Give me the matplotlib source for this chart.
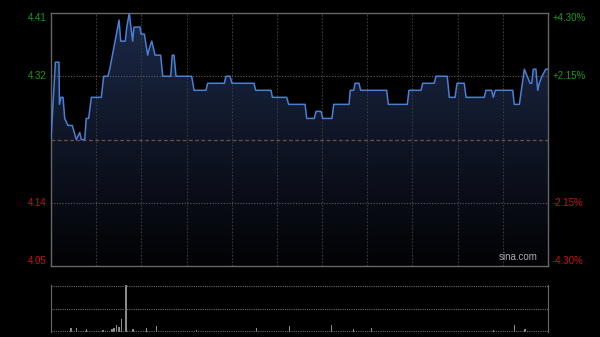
import numpy as np
import matplotlib.pyplot as plt
from matplotlib.patches import Polygon

plt.rcParams['font.family'] = ['Liberation Sans', 'DejaVu Sans']

# intraday price (minutes since open, price)
t = [0, 2.9, 5.3, 5.6, 6.6, 8, 9.1, 11.3, 14.1, 16.8, 19.1, 20.1, 22.4, 23.4, 25, 26.8,
     33.4, 35, 37.8, 39, 45.2, 46.3, 49.3, 50.3, 52, 54.2, 55.1, 59.1, 59.8, 62, 64.2,
     65.3, 66.9, 69.1, 72.8, 74.2, 79.5, 80.5, 81.7, 83, 93.4, 95, 102.9, 104, 115.1,
     116.2, 118.9, 120.2, 134.8, 135.9, 146.1, 147, 156.5, 157.8, 168.7, 169.8, 174.8,
     176, 179.3, 180.4, 186.6, 187.7, 197.9, 198.7, 201, 201.9, 204.5, 205.6, 222.9,
     224, 236.6, 237.7, 245.7, 246.8, 254.5, 255.6, 263.1, 264.5, 268.3, 269.6, 274.4,
     275.6, 287.7, 288.8, 292.6, 293.7, 295, 306.6, 307.6, 311, 314.3, 318.1, 319.2,
     320.3, 322, 323.2, 324.2, 326, 328.5, 330]
price = [4.23, 4.34, 4.34, 4.28, 4.29, 4.29, 4.26, 4.25, 4.25, 4.23, 4.24, 4.23, 4.23, 4.26, 4.26, 4.29,
         4.29, 4.32, 4.32, 4.33, 4.40, 4.37, 4.37, 4.39, 4.41, 4.37, 4.39, 4.39, 4.38, 4.38, 4.35,
         4.36, 4.37, 4.35, 4.35, 4.32, 4.32, 4.35, 4.35, 4.32, 4.32, 4.30, 4.30, 4.31, 4.31,
         4.32, 4.32, 4.31, 4.31, 4.30, 4.30, 4.29, 4.29, 4.28, 4.28, 4.26, 4.26,
         4.27, 4.27, 4.26, 4.26, 4.28, 4.28, 4.30, 4.30, 4.31, 4.31, 4.30, 4.30,
         4.28, 4.28, 4.30, 4.30, 4.31, 4.31, 4.32, 4.32, 4.29, 4.29, 4.31, 4.31,
         4.29, 4.29, 4.30, 4.30, 4.29, 4.30, 4.30, 4.28, 4.28, 4.33, 4.31, 4.31,
         4.33, 4.33, 4.30, 4.31, 4.32, 4.33, 4.33]

# volume spikes (minute, relative height)
vol_t = [13.3, 17, 23.7, 34.5, 40.5, 41.8, 43.6, 45.2, 47, 49.8, 54.4, 63.5, 70.2, 96.7,
         136.6, 158.2, 186.4, 200.7, 213, 293.7, 308, 314.7]
vol_h = [4, 4, 3, 2, 3, 4, 6.7, 5, 12.7, 47, 3, 4, 6, 2,
         4, 6, 7, 3, 4, 2, 7, 3]

prev_close = 4.23
left_labels = ['4.41', '4.32', '4.14', '4.05']
right_labels = ['+4.30%', '+2.15%', '-2.15%', '-4.30%']
label_levels = [4.41, 4.32, 4.14, 4.05]

green = '#1a9a1a'
red = '#cc1111'
grid_c = '#3a3a3a'
frame_c = '#666666'

fig = plt.figure(figsize=(6, 3.37), dpi=100, facecolor='black')
ax = fig.add_axes([0.085, 0.2107, 0.8283, 0.7507])
ax.set_facecolor('black')
ax.set_xlim(0, 330)
ax.set_ylim(4.05, 4.41)
ax.set_xticks([])
ax.set_yticks([])
for s in ax.spines.values():
    s.set_color(frame_c)
    s.set_linewidth(1)

# gradient fill under the line
grad = np.linspace(1, 0, 256).reshape(-1, 1)
top = np.array([0.11, 0.16, 0.28])
bot = np.array([0.01, 0.01, 0.02])
img = bot + grad[..., None] * (top - bot)
im = ax.imshow(img, extent=[0, 330, 4.05, 4.41], aspect='auto', zorder=1, origin='upper')
poly = Polygon(list(zip(t, price)) + [(330, 4.05), (0, 4.05)], closed=True,
               facecolor='none', edgecolor='none')
ax.add_patch(poly)
im.set_clip_path(poly)

for x in range(30, 330, 30):
    ax.axvline(x, color=grid_c, lw=0.8, ls=(0, (1.5, 1.5)), zorder=2)
for y in [4.32, 4.14]:
    ax.axhline(y, color='#5f5f5f', lw=0.8, ls=(0, (1, 1.5)), zorder=2)
ax.axhline(prev_close, color='#6e5044', lw=0.9, ls=(0, (3, 2)), zorder=2)

ax.plot(t, price, color='#4a7fd4', lw=1.1, zorder=3)

for lab, rl, lv in zip(left_labels, right_labels, label_levels):
    c = green if lv > prev_close else red
    va = 'top' if lv == 4.41 else ('bottom' if lv == 4.05 else 'center')
    ax.text(-0.008, lv, lab, color=c, fontsize=7, ha='right', va=va,
            transform=ax.get_yaxis_transform())
    ax.text(1.010, lv, rl, color=c, fontsize=7, ha='left', va=va,
            transform=ax.get_yaxis_transform())

ax.text(0.98, 0.015, 'sina.com', color='#aaaaaa', fontsize=7, ha='right', va='bottom',
        transform=ax.transAxes, zorder=4)

# volume panel
vax = fig.add_axes([0.085, 0.0148, 0.8283, 0.1395])
vax.set_facecolor('black')
vax.set_xlim(0, 330)
vax.set_ylim(0, 47)
vax.set_xticks([])
vax.set_yticks([])
for k in ['top', 'bottom']:
    vax.spines[k].set_visible(False)
for k in ['left', 'right']:
    vax.spines[k].set_color(frame_c)
for y in [0.8, 23.5, 46.5]:
    vax.axhline(y, color='#6a6a6a', lw=0.8, ls=(0, (1, 1)))
vax.bar(vol_t, vol_h, width=0.8, color='#8a8a8a')

fig.savefig('out.png', dpi=100, facecolor='black')
